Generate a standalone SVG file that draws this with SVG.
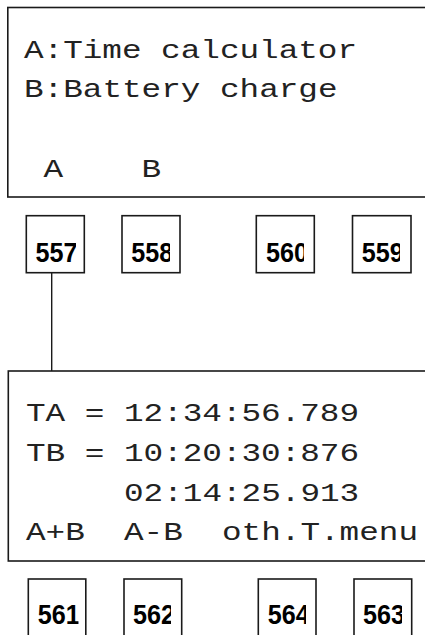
<svg xmlns="http://www.w3.org/2000/svg" width="425" height="635" viewBox="0 0 425 635">
<style>
.scr{fill:#fff;stroke:#1a1a1a;stroke-width:1.6}
.mono{font-family:"Liberation Mono","Courier New",monospace;font-size:26px;fill:#222;white-space:pre}
.key{fill:#fff;stroke:#1a1a1a;stroke-width:1.6}
.num{font-family:"Liberation Sans",Arial,sans-serif;font-weight:bold;font-size:27px;fill:#000}
.conn{stroke:#1a1a1a;stroke-width:1.4;fill:none}
</style>
<defs>
<clipPath id="c557" clipPathUnits="userSpaceOnUse"><rect x="27" y="216" width="49" height="56"/></clipPath>
<clipPath id="c558" clipPathUnits="userSpaceOnUse"><rect x="123" y="216" width="47" height="56"/></clipPath>
<clipPath id="c560" clipPathUnits="userSpaceOnUse"><rect x="257" y="216" width="47" height="56"/></clipPath>
<clipPath id="c559" clipPathUnits="userSpaceOnUse"><rect x="353" y="216" width="47" height="56"/></clipPath>
<clipPath id="c561" clipPathUnits="userSpaceOnUse"><rect x="29" y="580" width="49.5" height="56"/></clipPath>
<clipPath id="c562" clipPathUnits="userSpaceOnUse"><rect x="125" y="580" width="46" height="56"/></clipPath>
<clipPath id="c564" clipPathUnits="userSpaceOnUse"><rect x="259" y="580" width="47" height="56"/></clipPath>
<clipPath id="c563" clipPathUnits="userSpaceOnUse"><rect x="355" y="580" width="47" height="56"/></clipPath>
</defs>

<g id="connectors">
<line class="conn" x1="51.7" y1="272.7" x2="51.7" y2="371"/>
</g>

<g id="screen1">
<rect class="scr" x="7.8" y="7.5" width="430" height="189.5"/>
<text class="mono" x="24" y="57.5" textLength="333" lengthAdjust="spacingAndGlyphs">A:Time calculator</text>
<text class="mono" x="24" y="97" textLength="313.5" lengthAdjust="spacingAndGlyphs">B:Battery charge</text>
<text class="mono" x="43.6" y="176.7" textLength="19.6" lengthAdjust="spacingAndGlyphs">A</text>
<text class="mono" x="141.6" y="176.7" textLength="19.6" lengthAdjust="spacingAndGlyphs">B</text>
</g>

<g id="key557"><rect class="key" x="26.3" y="215.7" width="58" height="57"/><text class="num" x="35.5" y="262" textLength="42" lengthAdjust="spacingAndGlyphs" clip-path="url(#c557)">557</text></g>
<g id="key558"><rect class="key" x="122" y="215.7" width="58" height="57"/><text class="num" x="131.3" y="262" textLength="42" lengthAdjust="spacingAndGlyphs" clip-path="url(#c558)">558</text></g>
<g id="key560"><rect class="key" x="256.3" y="215.7" width="58" height="57"/><text class="num" x="266" y="262" textLength="42" lengthAdjust="spacingAndGlyphs" clip-path="url(#c560)">560</text></g>
<g id="key559"><rect class="key" x="352.5" y="215.7" width="58.5" height="57"/><text class="num" x="361.8" y="262" textLength="42" lengthAdjust="spacingAndGlyphs" clip-path="url(#c559)">559</text></g>

<g id="screen2">
<rect class="scr" x="8.3" y="371" width="430" height="190"/>
<text class="mono" x="26" y="421" textLength="333" lengthAdjust="spacingAndGlyphs">TA = 12:34:56.789</text>
<text class="mono" x="26" y="460.5" textLength="333" lengthAdjust="spacingAndGlyphs">TB = 10:20:30:876</text>
<text class="mono" x="124" y="500.5" textLength="235.2" lengthAdjust="spacingAndGlyphs">02:14:25.913</text>
<text class="mono" x="26" y="540" textLength="392" lengthAdjust="spacingAndGlyphs">A+B  A-B  oth.T.menu</text>
</g>

<g id="key561"><rect class="key" x="28.3" y="579" width="57.5" height="60"/><text class="num" x="37.8" y="624" textLength="42" lengthAdjust="spacingAndGlyphs" clip-path="url(#c561)">561</text></g>
<g id="key562"><rect class="key" x="124" y="579" width="57.7" height="60"/><text class="num" x="133" y="624" textLength="42" lengthAdjust="spacingAndGlyphs" clip-path="url(#c562)">562</text></g>
<g id="key564"><rect class="key" x="258.3" y="579" width="57.7" height="60"/><text class="num" x="267.8" y="624" textLength="42" lengthAdjust="spacingAndGlyphs" clip-path="url(#c564)">564</text></g>
<g id="key563"><rect class="key" x="354" y="579" width="57.7" height="60"/><text class="num" x="363" y="624" textLength="42" lengthAdjust="spacingAndGlyphs" clip-path="url(#c563)">563</text></g>
</svg>
